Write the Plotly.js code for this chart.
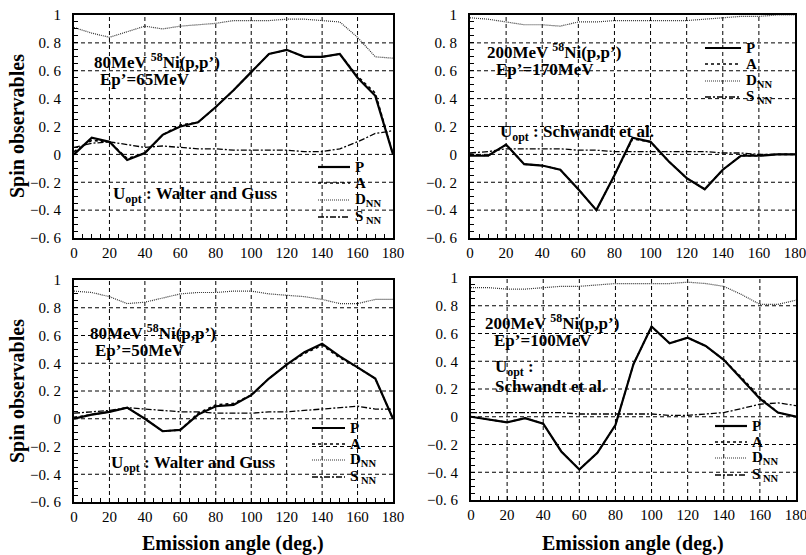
<!DOCTYPE html>
<html>
<head>
<meta charset="utf-8">
<script src="https://cdn.plot.ly/plotly-3.0.1.min.js"></script>
<style>html,body{margin:0;padding:0;background:#fff;}#chart{width:806px;height:555px;}</style>
</head>
<body>
<div id="chart"></div>
<script>
// Emission angles (deg.)
const angles = [0,10,20,30,40,50,60,70,80,90,100,110,120,130,140,150,160,170,180];

// Panel 1: 80MeV 58Ni(p,p'), Ep'=65MeV
const p1P = [0.00,0.12,0.09,-0.04,0.01,0.14,0.20,0.23,0.34,0.46,0.59,0.72,0.75,0.70,0.70,0.72,0.55,0.42,0.00];
const p1A = [0.02,0.10,0.09,-0.03,0.01,0.14,0.21,0.23,0.34,0.46,0.59,0.72,0.75,0.70,0.70,0.72,0.56,0.44,0.00];
const p1D = [0.91,0.87,0.84,0.88,0.92,0.90,0.92,0.93,0.94,0.96,0.96,0.96,0.97,0.97,0.96,0.95,0.84,0.70,0.69];
const p1S = [0.05,0.08,0.09,0.07,0.05,0.06,0.05,0.04,0.04,0.03,0.03,0.03,0.03,0.02,0.02,0.04,0.09,0.15,0.17];

// Panel 2: 200MeV 58Ni(p,p'), Ep'=170MeV
const p2P = [-0.01,-0.01,0.07,-0.07,-0.08,-0.11,-0.25,-0.40,-0.15,0.12,0.09,-0.05,-0.17,-0.25,-0.11,-0.01,-0.01,0.00,0.00];
const p2A = [0.00,-0.01,0.07,-0.07,-0.08,-0.11,-0.25,-0.40,-0.15,0.11,0.09,-0.05,-0.17,-0.25,-0.11,-0.01,-0.01,0.00,0.00];
const p2D = [0.98,0.97,0.95,0.93,0.93,0.92,0.95,0.95,0.96,0.96,0.96,0.96,0.96,0.97,0.98,0.99,0.99,1.00,1.00];
const p2S = [0.01,0.02,0.04,0.04,0.04,0.04,0.03,0.03,0.02,0.02,0.02,0.02,0.02,0.02,0.01,0.01,0.00,0.00,0.00];

// Panel 3: 80MeV 58Ni(p,p'), Ep'=50MeV
const p3P = [0.00,0.03,0.05,0.08,0.00,-0.09,-0.08,0.03,0.09,0.10,0.17,0.29,0.39,0.48,0.54,0.45,0.37,0.29,0.00];
const p3A = [0.01,0.03,0.05,0.08,0.00,-0.09,-0.08,0.04,0.10,0.11,0.17,0.29,0.39,0.47,0.53,0.44,0.37,0.29,0.00];
const p3D = [0.92,0.91,0.88,0.83,0.84,0.87,0.90,0.91,0.91,0.92,0.92,0.90,0.89,0.88,0.86,0.83,0.83,0.86,0.86];
const p3S = [0.04,0.05,0.06,0.08,0.07,0.06,0.05,0.05,0.04,0.04,0.04,0.05,0.05,0.06,0.07,0.08,0.09,0.07,0.07];

// Panel 4: 200MeV 58Ni(p,p'), Ep'=100MeV
const p4P = [0.00,-0.02,-0.04,-0.01,-0.05,-0.25,-0.38,-0.26,-0.06,0.38,0.65,0.53,0.57,0.51,0.41,0.27,0.13,0.03,0.00];
const p4A = [0.00,-0.02,-0.04,-0.01,-0.05,-0.25,-0.38,-0.26,-0.06,0.38,0.65,0.53,0.57,0.51,0.41,0.28,0.14,0.03,0.00];
const p4D = [0.93,0.93,0.92,0.92,0.93,0.94,0.94,0.95,0.96,0.96,0.96,0.96,0.97,0.96,0.94,0.88,0.81,0.81,0.84];
const p4S = [0.03,0.03,0.03,0.03,0.03,0.03,0.02,0.02,0.02,0.02,0.02,0.01,0.01,0.02,0.03,0.06,0.09,0.10,0.08];

const seriesNames = ['<b>P</b>', '<b>A</b>', '<b>D<sub>NN</sub></b>', '<b>S<sub> NN</sub></b>'];
const xTickVals = [0,20,40,60,80,100,120,140,160,180];
const xTickText = ['0','20','40','60','80','100','120','140','160','180'];
const yTickVals = [-0.6,-0.4,-0.2,0,0.2,0.4,0.6,0.8,1];
const yTickText = ['\u22120.\u00a06','\u22120.\u00a04','\u22120.\u00a02','0','0.\u00a02','0.\u00a04','0.\u00a06','0.\u00a08','1'];

const panels = [
  {P:p1P, A:p1A, D:p1D, S:p1S},
  {P:p2P, A:p2A, D:p2D, S:p2S},
  {P:p3P, A:p3A, D:p3D, S:p3S},
  {P:p4P, A:p4A, D:p4D, S:p4S}
];

const W = 806, H = 555;
const fx = v => v / W;
const fy = v => 1 - v / H;
const FONT = '"Liberation Serif", "Times New Roman", serif';

const styles = [
  {color:'#000', width:2.2, dash:'solid'},
  {color:'#000', width:1.6, dash:'dot'},
  {color:'#333', width:1.2, dash:'1px,1px'},
  {color:'#000', width:1.3, dash:'6px,2px,2px,2px'}
];

// tick positions every 5 deg / 0.05 with labels only on the major ones
const xMinorVals = [], xMinorText = [];
for (let v = 0; v <= 180; v += 5) {
  xMinorVals.push(v);
  const idx = xTickVals.indexOf(v);
  xMinorText.push(idx >= 0 ? xTickText[idx] : '');
}
const yMinorVals = [], yMinorText = [];
for (let n = -12; n <= 20; n++) {
  const v = Math.round(n * 5) / 100;
  yMinorVals.push(v);
  const idx = yTickVals.findIndex(t => Math.abs(t - v) < 1e-9);
  yMinorText.push(idx >= 0 ? yTickText[idx] : '');
}

const traces = [];
panels.forEach((pd, i) => {
  const k = i === 0 ? '' : String(i + 1);
  const arrs = [pd.P, pd.A, pd.D, pd.S];
  [2,3,1,0].forEach(j => {
    traces.push({
      x: angles, y: arrs[j], type:'scatter', mode:'lines',
      name: seriesNames[j], line: styles[j],
      xaxis: 'x' + k, yaxis: 'y' + k, showlegend: false, hoverinfo:'skip'
    });
  });
});

// panel pixel boxes [left, right, top, bottom]
const boxes = [[74,393,15,238],[470,795,15,238],[74,393,280,502],[471,796,278,500]];

const layout = {
  width: W, height: H,
  margin: {l:0, r:0, t:0, b:0},
  paper_bgcolor:'#fff', plot_bgcolor:'rgba(0,0,0,0)',
  font: {family: FONT, size: 15, color:'#000'},
  showlegend: false,
  annotations: [], shapes: []
};

const gridLine = {color:'#000', width:1, dash:'4px,3px'};

boxes.forEach((b, i) => {
  const k = i === 0 ? '' : String(i + 1);
  layout['xaxis' + k] = {
    domain: [fx(b[0]), fx(b[1])], anchor: 'y' + k, range: [0,180],
    tickmode:'array', tickvals: xMinorVals, ticktext: xMinorText,
    ticks:'inside', ticklen:4, tickcolor:'#000', tickwidth:1,
    showgrid:false, showline:true, linecolor:'#000', linewidth:2, mirror:true, zeroline:false,
    tickfont:{family:FONT, size:15, color:'#000'}, ticklabeloverflow:'allow', fixedrange:true
  };
  layout['yaxis' + k] = {
    domain: [fy(b[3]), fy(b[2])], anchor: 'x' + k, range: [-0.6,1],
    tickmode:'array', tickvals: yMinorVals, ticktext: yMinorText,
    ticks:'inside', ticklen:4, tickcolor:'#000', tickwidth:1,
    showgrid:false, showline:true, linecolor:'#000', linewidth:2, mirror:true, zeroline:false,
    tickfont:{family:FONT, size:15, color:'#000'}, ticklabelstandoff: 8, fixedrange:true
  };
  // dashed grid at the major tick values
  xTickVals.slice(1, -1).forEach(v => {
    layout.shapes.push({type:'line', layer:'below', xref:'x' + k, yref:'y' + k + ' domain',
      x0:v, x1:v, y0:0, y1:1, line:gridLine});
  });
  yTickVals.slice(1, -1).forEach(v => {
    layout.shapes.push({type:'line', layer:'below', xref:'x' + k + ' domain', yref:'y' + k,
      x0:0, x1:1, y0:v, y1:v, line:gridLine});
  });
});

function ann(text, x, y, opts) {
  layout.annotations.push(Object.assign({
    text: text, x: fx(x), y: fy(y), xref:'paper', yref:'paper',
    showarrow:false, xanchor:'center', yanchor:'middle',
    font:{family:FONT, size:17, color:'#000'}
  }, opts || {}));
}

// custom legends: [lineStart, lineEnd, textLeft, rowYs]
const legends = [
  [318, 350, 353, [167,183,200,217]],
  [705, 741, 744, [48,64,81,97]],
  [312, 345, 348, [428,444,460,477]],
  [715, 747, 750, [426,442,458,475]]
];
legends.forEach(L => {
  L[3].forEach((ry, j) => {
    layout.shapes.push({type:'line', xref:'paper', yref:'paper',
      x0: fx(L[0]), x1: fx(L[1]), y0: fy(ry), y1: fy(ry), line: styles[j]});
    ann(seriesNames[j], L[2], ry, {xanchor:'left', font:{family:FONT, size:15, color:'#000'}});
  });
});

const tSup = '<b>80MeV <sup>58</sup>Ni(p,p\u2019)</b>';
const tSup2 = '<b>200MeV <sup>58</sup>Ni(p,p\u2019)</b>';
ann(tSup, 157, 61);
ann('<b>Ep\u2019=65MeV</b>', 145, 80);
ann('<b>U<sub>opt</sub> : Walter and Guss</b>', 195, 195);

ann(tSup2, 554, 51);
ann('<b>Ep\u2019=170MeV</b>', 545, 69);
ann('<b>U<sub>opt</sub> : Schwandt et al.</b>', 577, 133);

ann(tSup, 153, 332);
ann('<b>Ep\u2019=50MeV</b>', 140, 350);
ann('<b>U<sub>opt</sub> : Walter and Guss</b>', 193, 464);

ann(tSup2, 552, 322);
ann('<b>Ep\u2019=100MeV</b>', 543, 340);
ann('<b>U<sub>opt</sub> :</b>', 493, 368, {xanchor:'left'});
ann('<b>Schwandt et al.</b>', 493, 386, {xanchor:'left'});

// axis titles
const titleFont = {family:FONT, size:20, color:'#000'};
ann('<b>Spin observables</b>', 17, 126, {textangle:-90, font:titleFont});
ann('<b>Spin observables</b>', 17, 391, {textangle:-90, font:titleFont});
ann('<b>Emission angle (deg.)</b>', 233, 543, {font:titleFont});
ann('<b>Emission angle (deg.)</b>', 633, 543, {font:titleFont});

Plotly.newPlot('chart', traces, layout, {staticPlot:true, displayModeBar:false});
</script>
</body>
</html>
